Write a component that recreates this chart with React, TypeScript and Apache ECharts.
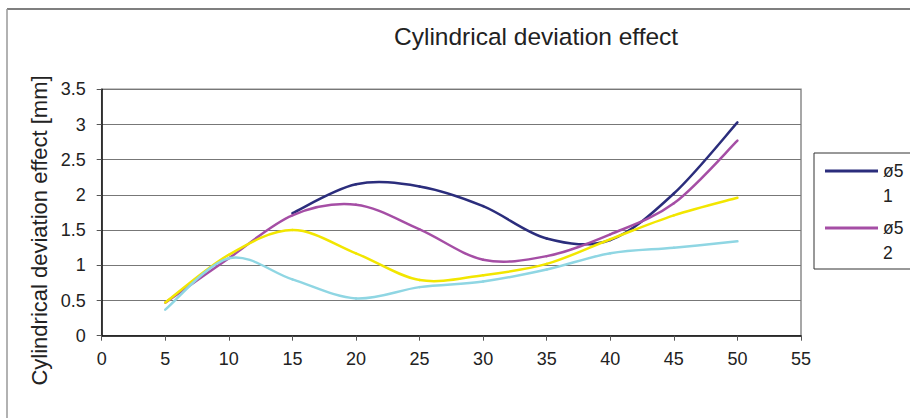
import React, { useEffect, useRef } from "react";
import * as echarts from "echarts";

const xValues = [5, 10, 15, 20, 25, 30, 35, 40, 45, 50];
const seriesNames = ["ø5 1", "ø5 2", "ø5 3", "ø5 4"];
const series1 = [null, null, 1.74, 2.15, 2.12, 1.84, 1.38, 1.36, 2.02, 3.03];
const series2 = [0.47, 1.1, 1.71, 1.86, 1.51, 1.08, 1.13, 1.44, 1.88, 2.77];
const series3 = [0.47, 1.15, 1.5, 1.17, 0.79, 0.86, 1.02, 1.37, 1.71, 1.96];
const series4 = [0.37, 1.1, 0.8, 0.53, 0.69, 0.77, 0.94, 1.17, 1.25, 1.34];
const colors = ["#2b2d7c", "#a54ea5", "#f2e600", "#8fd6e3"];
const yTicks = [0, 0.5, 1, 1.5, 2, 2.5, 3, 3.5];

const FONT = "Liberation Sans, Arial, sans-serif";

export default function App() {
  const ref = useRef<HTMLDivElement>(null);
  useEffect(() => {
    if (!ref.current) return;
    const chart = echarts.init(ref.current, undefined, { renderer: "svg" });
    const allData = [series1, series2, series3, series4];
    const makeSeries = (arr: (number | null)[], i: number) => {
      const pts = xValues
        .map((x, j) => [x, arr[j]] as [number, number | null])
        .filter((p) => p[1] !== null) as [number, number][];
      return {
        name: seriesNames[i],
        type: "custom",
        color: colors[i],
        itemStyle: { color: colors[i] },
        data: pts,
        z: 3 + i,
        renderItem: (params: any, api: any) => {
          const k = params.dataIndex;
          if (k >= pts.length - 1) return null;
          const c = pts.map((p) => api.coord(p));
          const p0 = c[Math.max(k - 1, 0)];
          const p1 = c[k];
          const p2 = c[k + 1];
          const p3 = c[Math.min(k + 2, c.length - 1)];
          const t = 1 / 6;
          return {
            type: "bezierCurve",
            shape: {
              x1: p1[0],
              y1: p1[1],
              cpx1: p1[0] + (p2[0] - p0[0]) * t,
              cpy1: p1[1] + (p2[1] - p0[1]) * t,
              cpx2: p2[0] - (p3[0] - p1[0]) * t,
              cpy2: p2[1] - (p3[1] - p1[1]) * t,
              x2: p2[0],
              y2: p2[1],
            },
            style: { stroke: colors[i], lineWidth: 2.5, fill: "none", lineCap: "round" },
          };
        },
      };
    };
    chart.setOption({
      animation: false,
      backgroundColor: "#fff",
      textStyle: { fontFamily: FONT },
      title: {
        text: "Cylindrical deviation effect",
        left: 394,
        top: 24,
        padding: 0,
        textStyle: { fontSize: 24.5, fontWeight: "normal", color: "#222", fontFamily: FONT },
      },
      legend: {
        data: [seriesNames[0], seriesNames[1]],
        orient: "vertical",
        left: 825,
        top: 133.5,
        padding: 0,
        itemGap: -18,
        itemWidth: 53,
        itemHeight: 3,
        icon: "rect",
        formatter: (n: string) => "\u00a0\n" + n.replace(" ", "\n"),
        textStyle: {
          fontSize: 17.5,
          color: "#222",
          fontFamily: FONT,
          lineHeight: 25,
        },
      },
      graphic: [
        { type: "line", shape: { x1: 7, y1: 9, x2: 910, y2: 9 }, style: { stroke: "#555", lineWidth: 1.5 } },
        { type: "line", shape: { x1: 7, y1: 9, x2: 7, y2: 418 }, style: { stroke: "#999", lineWidth: 1.5 } },
        { type: "rect", shape: { x: 814, y: 153, width: 110, height: 116 }, style: { fill: "none", stroke: "#333", lineWidth: 1 } },
      ],
      grid: {
        left: 101.7,
        right: 109,
        top: 89.3,
        bottom: 82.3,
        show: true,
        borderColor: "#8a8a8a",
        borderWidth: 1.5,
        backgroundColor: "transparent",
      },
      xAxis: {
        type: "value",
        min: 0,
        max: 55,
        interval: 5,
        axisLine: { show: true, lineStyle: { color: "#111", width: 1.5 } },
        axisTick: { show: true, length: 5, lineStyle: { color: "#555" } },
        axisLabel: { fontSize: 18, color: "#222", margin: 14, fontFamily: FONT },
        splitLine: { show: false },
      },
      yAxis: {
        type: "value",
        min: yTicks[0],
        max: yTicks[yTicks.length - 1],
        interval: 0.5,
        name: "Cylindrical deviation effect [mm]",
        nameLocation: "middle",
        nameRotate: 90,
        nameGap: 40,
        nameMoveOverlap: false,
        nameTextStyle: {
          fontSize: 22,
          color: "#222",
          fontFamily: FONT,
          backgroundColor: "#fff",
          padding: [0, 36, 11, 0],
        },
        axisLine: { show: true, lineStyle: { color: "#111", width: 1.5 } },
        axisTick: { show: true, length: 5, lineStyle: { color: "#555" } },
        axisLabel: { fontSize: 18, color: "#222", margin: 16, fontFamily: FONT },
        splitLine: { show: true, lineStyle: { color: "#777", width: 1 } },
      },
      series: allData.map((arr, i) => makeSeries(arr, i)),
    });
    return () => chart.dispose();
  }, []);
  return <div ref={ref} style={{ width: 910, height: 418, position: "absolute", left: 0, top: 0 }} />;
}
